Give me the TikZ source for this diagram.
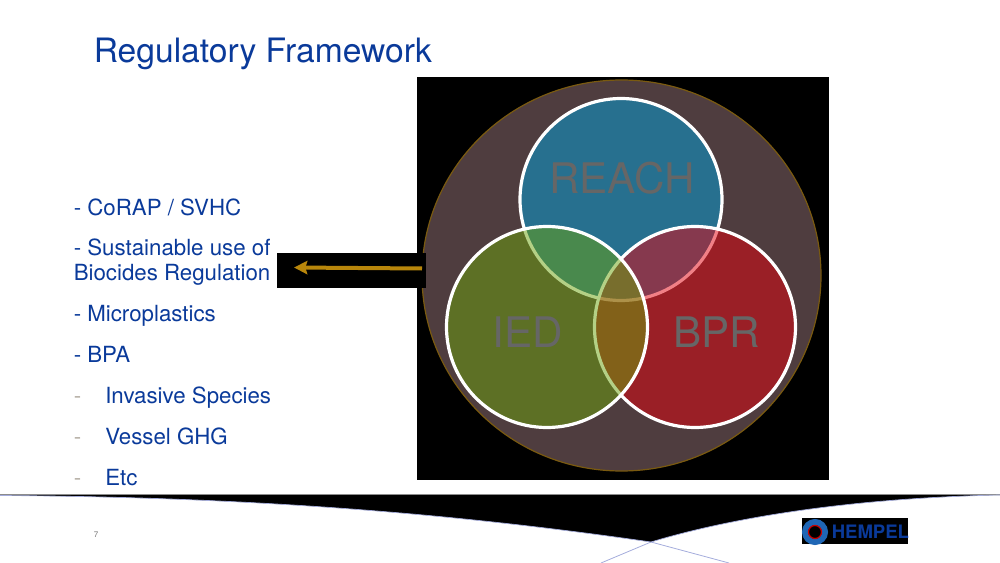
\documentclass[tikz,border=0pt]{standalone}
\usepackage{fontspec}
\setmainfont{TeX Gyre Heros}
\usetikzlibrary{arrows,arrows.meta,positioning}
\definecolor{slideblue}{HTML}{0A3A9A}
\definecolor{wavegray}{HTML}{8C8C8C}
\definecolor{wavelilac}{HTML}{A4ACDC}
\definecolor{arrowgold}{HTML}{B8860B}
\definecolor{dashgray}{HTML}{B5AFA5}
\definecolor{outerfill}{RGB}{79,61,63}
\definecolor{outerline}{RGB}{122,90,16}
\definecolor{reachfill}{RGB}{0,163,223}
\definecolor{bprfill}{RGB}{229,3,15}
\definecolor{iedfill}{RGB}{107,163,13}
\definecolor{logoring}{HTML}{1F66B5}
\tikzset{font=\small}
\tikzset{bullet/.style={anchor=base west,inner sep=0pt,text=slideblue,font=\fontsize{16.7pt}{18pt}\selectfont}}
\tikzset{dashmark/.style={bullet,text=dashgray}}
\tikzset{venn/.style={draw=white,line width=2.4pt,fill opacity=.5,draw opacity=1}}
\tikzset{vennlabel/.style={inner sep=0pt,text=black!60,font=\fontsize{31.6pt}{33pt}\selectfont}}

\begin{document}
\begin{tikzpicture}[x=.75pt,y=-.75pt]
\useasboundingbox (0,0) rectangle (1000,563);
\node[anchor=base west,inner sep=0pt,text=slideblue,font=\fontsize{25.2pt}{27pt}\selectfont] (title) at (93.5,62.5) {Regulatory Framework};
% backing panel and outer circle
\fill[black] (417,77) rectangle (829,480);
\draw[fill=outerfill,draw=outerline,line width=.9pt] (621.5,275.5) ellipse [x radius=199.5,y radius=195.5];
% the three regulations
\draw[venn,fill=reachfill] (621,199.5) circle [radius=101];
\draw[venn,fill=bprfill] (695,327) circle [radius=100.5];
\draw[venn,fill=iedfill] (547,327) circle [radius=100.5];
\node[vennlabel] (reach) at (622,178) {REACH};
\node[vennlabel] (ied) at (527.5,332) {IED};
\node[vennlabel] (bpr) at (717,332) {BPR};
% arrow out of the panel
\fill[black] (277,253) rectangle (426,288);
\coordinate (arrow tail) at (422,268.5);
\coordinate (arrow head) at (294,267.5);
\draw[-{Stealth[length=10pt,width=10pt,inset=1.5pt]},arrowgold,line width=3pt] (arrow tail) -- (arrow head);
% list on the left
\node[bullet] (corap) at (73.5,215) {- CoRAP / SVHC};
\node[bullet] (biocides) at (73.5,256) {- Sustainable use of};
\node[bullet] (biocides2) at (73.5,280) {Biocides Regulation};
\node[bullet] (micro) at (73.5,321) {- Microplastics};
\node[bullet] (bpa) at (73.5,362) {- BPA};
\node[dashmark] (dash1) at (73.5,403) {-};
\node[bullet] (invasive) at (105,403) {Invasive Species};
\node[dashmark] (dash2) at (73.5,444) {-};
\node[bullet] (vessel) at (105,444) {Vessel GHG};
\node[dashmark] (dash3) at (73.5,485) {-};
\node[bullet] (etc) at (105,485) {Etc};
% footer wave
\fill[black] (0,495) -- (1000,495) .. controls (850,498) and (730,518) .. (651,542)
  .. controls (450,513) and (250,497) .. (0,495.5) -- cycle;
\draw[wavegray,line width=.5pt] (0,494.5) -- (1000,494.5);
\draw[wavelilac,line width=.5pt] (0,495.5) .. controls (250,497) and (450,513) .. (651,542)
  .. controls (730,518) and (850,498) .. (1000,495);
\draw[wavelilac,line width=.6pt] (601,563) -- (651,542) -- (729,563);
\node[inner sep=0pt,text=black!55,font=\fontsize{6pt}{7pt}\selectfont] (page) at (96,535) {7};
% logo
\fill[black] (802,518) rectangle (908,544);
\draw[logoring,line width=4.5pt] (815,532) circle [radius=10];
\draw[red!80!black,line width=.9pt] (815,532) circle [radius=6.5];
\node[anchor=base west,inner sep=0pt,text=slideblue,font=\bfseries\fontsize{13.9pt}{15pt}\selectfont] (hempel) at (831.5,538.5) {HEMPEL};
\end{tikzpicture}
\end{document}
